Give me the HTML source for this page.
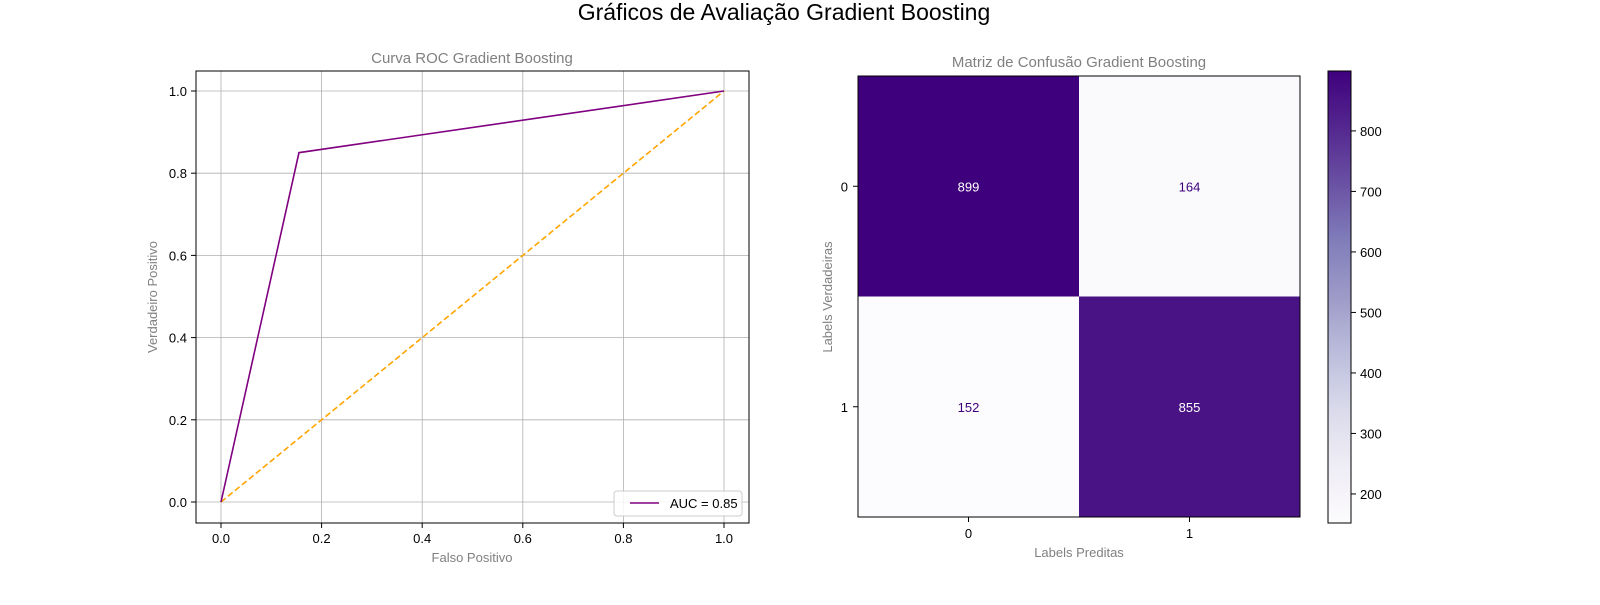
<!DOCTYPE html>
<html><head><meta charset="utf-8"><style>
body{margin:0;background:#fff}
text{font-family:"Liberation Sans","DejaVu Sans",sans-serif}
</style></head><body>
<svg id="s" width="1600" height="600" xmlns="http://www.w3.org/2000/svg">
<text x="784" y="20" font-size="23" text-anchor="middle">Gráficos de Avaliação Gradient Boosting</text>
<g id="roc"></g>
<g id="cm"></g>
</svg>
<script>
const rocFpr=[0,0.155,1];
const rocTpr=[0,0.85,1];
const diagX=[0,1];
const diagY=[0,1];
const rocTicks=[0,0.2,0.4,0.6,0.8,1.0];
const cmValues=[[899,164],[152,855]];
const cmLabels=["0","1"];
const cbTicks=[200,300,400,500,600,700,800];
const aucLabel="AUC = 0.85";
const NS="http://www.w3.org/2000/svg";
function mk(p,t,a,txt){const e=document.createElementNS(NS,t);for(const k in a)e.setAttribute(k,a[k]);if(txt!==undefined)e.textContent=txt;p.appendChild(e);return e;}
// ROC
const roc=document.getElementById('roc');
const X=v=>221+v*503, Y=v=>502-v*411;
rocTicks.forEach(t=>{
 let g=mk(roc,'line',{x1:X(t),x2:X(t),y1:71,y2:523,stroke:'#b0b0b0','stroke-width':0.8});
 
 g=mk(roc,'line',{x1:196,x2:749,y1:Y(t),y2:Y(t),stroke:'#b0b0b0','stroke-width':0.8});
 
 let l=mk(roc,'line',{x1:X(t),x2:X(t),y1:523,y2:528,stroke:'#000'});
 
 l=mk(roc,'text',{x:X(t),y:543,'font-size':13,'text-anchor':'middle'},t.toFixed(1));
 
 l=mk(roc,'line',{x1:191,x2:196,y1:Y(t),y2:Y(t),stroke:'#000'});
 
 l=mk(roc,'text',{x:187,y:Y(t)+5,'font-size':13,'text-anchor':'end'},t.toFixed(1));
 
});
let e=mk(roc,'polyline',{points:diagX.map((v,i)=>X(v)+','+Y(diagY[i])).join(' '),fill:'none',stroke:'orange','stroke-width':1.6,'stroke-dasharray':'6,3'});

e=mk(roc,'polyline',{points:rocFpr.map((v,i)=>X(v)+','+Y(rocTpr[i])).join(' '),fill:'none',stroke:'purple','stroke-width':1.6});

e=mk(roc,'rect',{x:196,y:71,width:553,height:452,fill:'none',stroke:'#000','stroke-width':1});

e=mk(roc,'text',{x:472,y:63,'font-size':15,fill:'#808080','text-anchor':'middle'},'Curva ROC Gradient Boosting');

e=mk(roc,'text',{x:472,y:562,'font-size':13,fill:'#808080','text-anchor':'middle'},'Falso Positivo');

e=mk(roc,'text',{x:157,y:297,'font-size':13,fill:'#808080','text-anchor':'middle',transform:'rotate(-90 157 297)'},'Verdadeiro Positivo');

const lg=mk(roc,'g',{});

mk(lg,'rect',{x:614,y:491,width:128,height:25,rx:3,fill:'#fff','fill-opacity':0.85,stroke:'#ccc'});
mk(lg,'line',{x1:630,x2:659,y1:503,y2:503,stroke:'purple','stroke-width':1.6});
mk(lg,'text',{x:670,y:508,'font-size':13},aucLabel);
// Confusion matrix
const cm=document.getElementById('cm');
const vmin=152,vmax=899;
function purples(v){const t=(v-vmin)/(vmax-vmin);
 const stops=[[252,251,253],[239,237,245],[218,218,235],[188,189,220],[158,154,200],[128,125,186],[106,81,163],[84,39,143],[63,0,125]];
 const p=t*(stops.length-1),i=Math.min(Math.floor(p),stops.length-2),f=p-i;
 const c=stops[i].map((a,k)=>Math.round(a+(stops[i+1][k]-a)*f));return 'rgb('+c.join(',')+')';}
const cx0=858,cy0=76,cw=221,ch=220.5;
cmValues.forEach((row,r)=>row.forEach((v,c)=>{
 let el=mk(cm,'rect',{x:cx0+c*cw,y:cy0+r*ch,width:cw,height:ch,fill:purples(v)});
 
 const t=(v-vmin)/(vmax-vmin);
 el=mk(cm,'text',{x:cx0+c*cw+cw/2,y:cy0+r*ch+ch/2+5,'font-size':13,'text-anchor':'middle',fill:t>0.5?'#fff':'#3f007d'},String(v));
 
}));
e=mk(cm,'rect',{x:cx0,y:cy0,width:2*cw,height:2*ch,fill:'none',stroke:'#000'});

cmLabels.forEach((l,i)=>{
 let el=mk(cm,'line',{x1:cx0+i*cw+cw/2,x2:cx0+i*cw+cw/2,y1:517,y2:522,stroke:'#000'});
 
 el=mk(cm,'text',{x:cx0+i*cw+cw/2,y:538,'font-size':13,'text-anchor':'middle'},l);
 
 el=mk(cm,'line',{x1:853,x2:858,y1:cy0+i*ch+ch/2,y2:cy0+i*ch+ch/2,stroke:'#000'});
 
 el=mk(cm,'text',{x:848,y:cy0+i*ch+ch/2+5,'font-size':13,'text-anchor':'end'},l);
 
});
e=mk(cm,'text',{x:1079,y:67,'font-size':15,fill:'#808080','text-anchor':'middle'},'Matriz de Confusão Gradient Boosting');

e=mk(cm,'text',{x:1079,y:557,'font-size':13,fill:'#808080','text-anchor':'middle'},'Labels Preditas');

e=mk(cm,'text',{x:832,y:297,'font-size':13,fill:'#808080','text-anchor':'middle',transform:'rotate(-90 832 297)'},'Labels Verdadeiras');

// colorbar
const cb=mk(cm,'g',{});

const defs=mk(cb,'defs',{});
const gr=mk(defs,'linearGradient',{id:'gp',x1:0,y1:1,x2:0,y2:0});
for(let i=0;i<=16;i++){const v=vmin+(vmax-vmin)*i/16;mk(gr,'stop',{offset:i/16,'stop-color':purples(v)});}
const cbTop=71,cbBot=523,CB=v=>cbBot-(v-vmin)/(vmax-vmin)*(cbBot-cbTop);
mk(cb,'rect',{x:1328,y:cbTop,width:23,height:cbBot-cbTop,fill:'url(#gp)',stroke:'#000'});
cbTicks.forEach(t=>{
 let el=mk(cb,'line',{x1:1351,x2:1356,y1:CB(t),y2:CB(t),stroke:'#000'});
 
 el=mk(cb,'text',{x:1360,y:CB(t)+5,'font-size':13},String(t));
 
});
</script>
</body></html>
